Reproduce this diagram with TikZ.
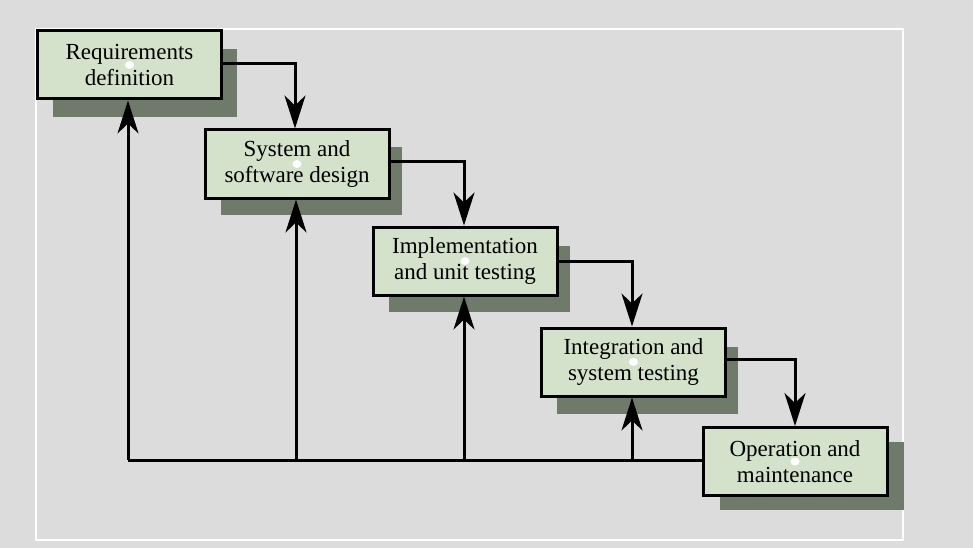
\documentclass[tikz,border=0pt]{standalone}
\usepackage{fontspec}
\setmainfont{Liberation Serif}
\usetikzlibrary{arrows.meta,shapes.geometric}
\definecolor{bggray}{RGB}{220,220,220}
\definecolor{boxfill}{RGB}{212,226,204}
\definecolor{shadowc}{RGB}{112,122,106}
\tikzset{
  stage/.style={draw=black, line width=3pt, fill=boxfill, minimum width=184pt, minimum height=68pt,
    inner sep=0pt, align=center, font=\fontsize{23}{26}\selectfont},
  shade/.style={fill=shadowc, draw=none},
  flow/.style={line width=3pt, -{Stealth[length=33pt, width=21pt, inset=10pt]}},
  back/.style={line width=3pt},
  dot/.style={fill=white, draw=none, ellipse, minimum width=9pt, minimum height=8pt, inner sep=0pt}
}
\begin{document}
\begin{tikzpicture}[x=1pt,y=-1pt]
\fill[bggray] (0,0) rectangle (973,548);
\useasboundingbox (0,0) rectangle (973,548);
\draw[white, line width=1.2pt] (36,29) rectangle (903,540);
% shadows
\fill[shade] (53,49) rectangle (237,117);
\fill[shade] (221,147) rectangle (402,215);
\fill[shade] (389,246) rectangle (570,312);
\fill[shade] (557,347) rectangle (738,414);
\fill[shade] (720,442) rectangle (904,510);
% boxes
\node[stage] (req) at (129.5,65) {Requirements\\definition};
\node[stage] (sys) at (297,164) {System and\\software design};
\node[stage] (imp) at (465,261) {Implementation\\and unit testing};
\node[stage] (int) at (633.5,362) {Integration and\\system testing};
\node[stage] (op) at (795,461.5) {Operation and\\maintenance};
% center dots
\foreach \n in {req,sys,imp,int,op} \node[dot] at (\n.center) {};
% forward flow
\draw[flow] (req.east |- 0,64) -| (sys.north -| 295,0);
\draw[flow] (sys.east |- 0,162) -| (imp.north -| 464,0);
\draw[flow] (imp.east |- 0,261) -| (int.north -| 632,0);
\draw[flow] (int.east |- 0,359) -| (op.north -| 795,0);
% feedback
\coordinate (fb1) at (128,460);
\coordinate (fb2) at (296,460);
\coordinate (fb3) at (464,460);
\coordinate (fb4) at (632,460);
\draw[back] (fb1) -- (op.west |- fb1);
\draw[flow] (fb1) -- (req.south -| fb1);
\draw[flow] (fb2) -- (sys.south -| fb2);
\draw[flow] (fb3) -- (imp.south -| fb3);
\draw[flow] (fb4) -- (int.south -| fb4);
\end{tikzpicture}
\end{document}
